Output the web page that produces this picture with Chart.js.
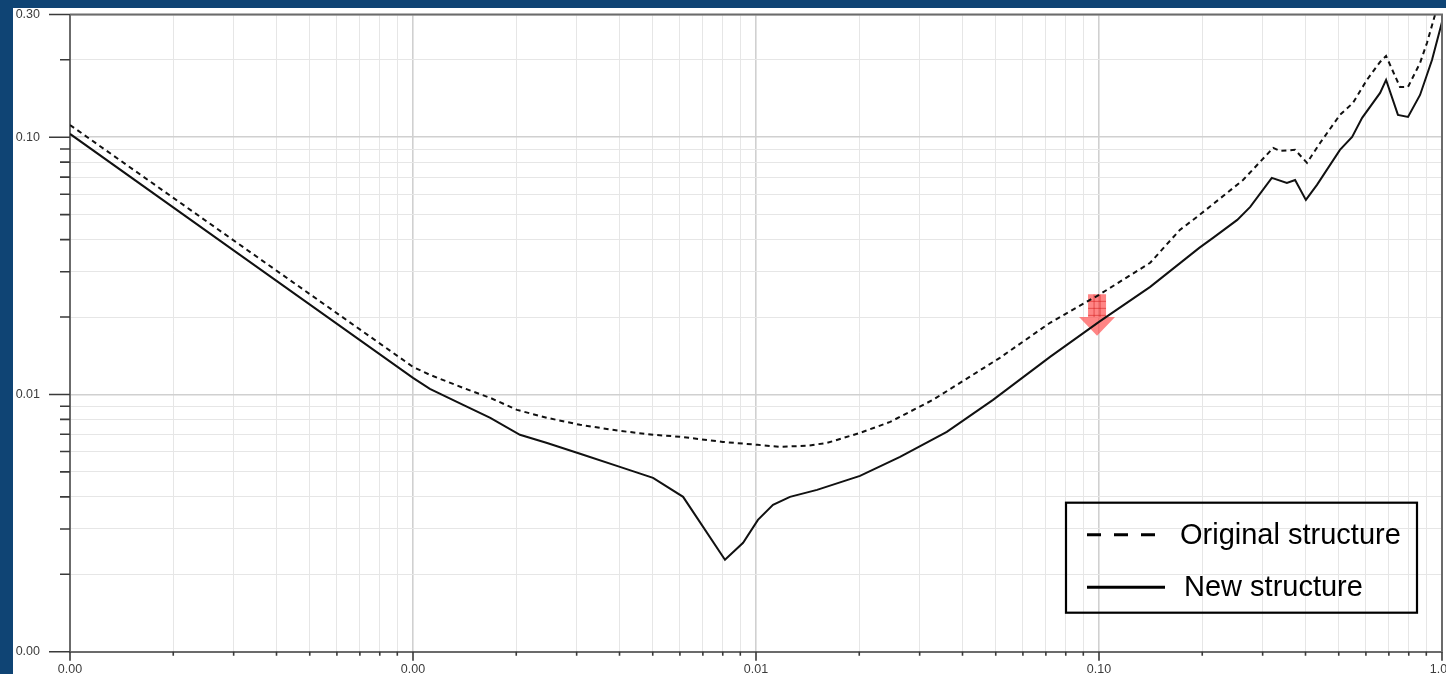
<!DOCTYPE html>
<html>
<head>
<meta charset="utf-8">
<script src="https://cdn.jsdelivr.net/npm/chart.js@4.4.1/dist/chart.umd.min.js"></script>
<style>
  html, body { margin: 0; padding: 0; background: #0f4474; overflow: hidden; width: 1446px; height: 674px; }
  canvas { position: absolute; left: 0; top: 0; }
</style>
</head>
<body>
<canvas id="c" width="1462" height="674"></canvas>
<script>
// Series names
const seriesNames = ['Original structure', 'New structure'];

// Original structure (dashed)
const originalX = [0.0001, 0.00031, 0.001, 0.00112, 0.0014, 0.00168, 0.00201, 0.00246, 0.00307, 0.00401,
  0.00501, 0.0060, 0.0080, 0.0101, 0.01175, 0.0141, 0.0161, 0.0201, 0.0246, 0.0328,
  0.0514, 0.072, 0.1, 0.141, 0.172, 0.193, 0.236, 0.263, 0.322, 0.337,
  0.373, 0.404, 0.441, 0.504, 0.550, 0.604, 0.660, 0.687, 0.754, 0.796,
  0.863, 0.904, 0.954, 1.0];
const originalY = [0.1116, 0.0385, 0.0128, 0.01192, 0.01061, 0.0097, 0.00871, 0.00811, 0.00762, 0.00722,
  0.00697, 0.00685, 0.00654, 0.00637, 0.00626, 0.00632, 0.00648, 0.00709, 0.00782, 0.00953,
  0.01388, 0.0190, 0.0244, 0.0325, 0.0436, 0.049, 0.0607, 0.0682, 0.0909, 0.0885,
  0.0893, 0.0795, 0.0950, 0.1221, 0.1359, 0.1670, 0.1962, 0.2070, 0.1569, 0.1569,
  0.1944, 0.2325, 0.2987, 0.327];

// New structure (solid)
const newX = [0.0001, 0.00031, 0.001, 0.00112, 0.0014, 0.00168, 0.00205, 0.00246, 0.00307, 0.00401,
  0.00501, 0.00613, 0.00812, 0.00917, 0.01013, 0.01121, 0.01256, 0.01506, 0.0201, 0.0263,
  0.0360, 0.0491, 0.072, 0.1, 0.141, 0.196, 0.215, 0.253, 0.276, 0.319,
  0.353, 0.373, 0.401, 0.432, 0.504, 0.547, 0.585, 0.660, 0.687, 0.744,
  0.796, 0.863, 0.935, 1.0];
const newY = [0.1030, 0.0352, 0.0116, 0.01051, 0.00911, 0.00811, 0.00697, 0.00648, 0.00588, 0.00523,
  0.00474, 0.0040, 0.002277, 0.002651, 0.003255, 0.003723, 0.0040, 0.004257, 0.004827, 0.00572,
  0.007154, 0.00953, 0.0140, 0.01915, 0.02619, 0.03714, 0.04061, 0.04771, 0.05358, 0.06948,
  0.06645, 0.06823, 0.05705, 0.06527, 0.08925, 0.1003, 0.1189, 0.1487, 0.1670, 0.1221,
  0.1199, 0.1460, 0.1997, 0.2806];

// Axis ranges and labelled ticks
const xRange = [0.0001, 1];
const yRange = [0.001, 0.3];
const xMajorTicks = [0.0001, 0.001, 0.01, 0.1, 1];
const xMajorLabels = ['0.00', '0.00', '0.01', '0.10', '1.00'];
const yMajorTicks = [0.001, 0.01, 0.1, 0.3];
const yMajorLabels = ['0.00', '0.01', '0.10', '0.30'];

// Downward arrow between the curves (value coordinates)
const arrowX = 0.0987;
const arrowTop = 0.0245;
const arrowNeck = 0.0200;
const arrowTip = 0.0169;

function logTicks(min, max) {
  const out = [];
  for (let e = Math.floor(Math.log10(min)); e <= Math.ceil(Math.log10(max)); e++) {
    for (let m = 1; m <= 9; m++) {
      const v = +(m * Math.pow(10, e)).toPrecision(6);
      if (v >= min * 0.9999 && v <= max * 1.0001) out.push(v);
    }
  }
  return out;
}
function findIndex(list, v) {
  return list.findIndex(t => Math.abs(t - v) / t < 1e-6);
}
function toPoints(xs, ys) { return xs.map((x, i) => ({ x: x, y: ys[i] })); }

const AXIS_GRAY = '#6b6b6b';
const TICK_DARK = '#3a3a3a';

const backdrop = {
  id: 'backdrop',
  beforeDraw(chart) {
    const ctx = chart.ctx;
    ctx.save();
    ctx.fillStyle = '#0f4474';
    ctx.fillRect(0, 0, chart.width, chart.height);
    ctx.fillStyle = '#ffffff';
    ctx.fillRect(13, 8, chart.width - 13, chart.height - 8);
    ctx.restore();
  }
};

const arrow = {
  id: 'arrow',
  beforeDatasetsDraw(chart) {
    const { ctx, scales: { x, y } } = chart;
    const cx = x.getPixelForValue(arrowX);
    const top = y.getPixelForValue(arrowTop);
    const neck = y.getPixelForValue(arrowNeck);
    const tip = y.getPixelForValue(arrowTip);
    const sw = 9, hw = 18;
    ctx.save();
    ctx.beginPath();
    ctx.moveTo(cx - sw, top);
    ctx.lineTo(cx + sw, top);
    ctx.lineTo(cx + sw, neck);
    ctx.lineTo(cx + hw, neck);
    ctx.lineTo(cx, tip);
    ctx.lineTo(cx - hw, neck);
    ctx.lineTo(cx - sw, neck);
    ctx.closePath();
    ctx.fillStyle = 'rgba(255, 70, 70, 0.66)';
    ctx.fill();
    ctx.clip();
    ctx.strokeStyle = 'rgba(210, 30, 30, 0.55)';
    ctx.lineWidth = 1;
    ctx.beginPath();
    for (let gy = top + 7; gy < neck + 4; gy += 7) { ctx.moveTo(cx - sw, gy); ctx.lineTo(cx + sw, gy); }
    ctx.moveTo(cx - 3, top); ctx.lineTo(cx - 3, neck);
    ctx.moveTo(cx + 3, top); ctx.lineTo(cx + 3, neck);
    ctx.stroke();
    ctx.restore();
  }
};

const frame = {
  id: 'frame',
  afterDraw(chart) {
    const { ctx, chartArea: a, scales: { x, y } } = chart;
    ctx.save();
    ctx.strokeStyle = TICK_DARK;
    ctx.lineWidth = 1.6;
    ctx.beginPath();
    y.ticks.forEach(t => {
      const py = y.getPixelForValue(t.value);
      const len = t.major ? 21 : 10;
      ctx.moveTo(a.left - len, py); ctx.lineTo(a.left, py);
    });
    x.ticks.forEach(t => {
      const px = x.getPixelForValue(t.value);
      const len = t.major ? 9 : 4;
      ctx.moveTo(px, a.bottom); ctx.lineTo(px, a.bottom + len);
    });
    ctx.stroke();
    ctx.strokeStyle = AXIS_GRAY;
    ctx.lineWidth = 2;
    ctx.beginPath();
    ctx.moveTo(a.left, a.top); ctx.lineTo(a.right + 1, a.top);
    ctx.moveTo(a.right, a.top); ctx.lineTo(a.right, a.bottom);
    ctx.stroke();
    ctx.restore();
  }
};

const boxLegend = {
  id: 'boxLegend',
  afterDraw(chart) {
    const { ctx, chartArea: a } = chart;
    const right = a.right - 25, bottom = a.bottom - 39;
    const left = right - 351, top = bottom - 110;
    ctx.save();
    ctx.strokeStyle = '#000';
    ctx.lineWidth = 2.2;
    ctx.strokeRect(left, top, right - left, bottom - top);
    const rows = [
      { ds: chart.data.datasets[0], y: top + 32, x0: left + 21, x1: left + 92, tx: left + 114 },
      { ds: chart.data.datasets[1], y: top + 84.5, x0: left + 21, x1: left + 99, tx: left + 118 }
    ];
    ctx.font = '29px "Liberation Sans", Arial, sans-serif';
    ctx.textBaseline = 'middle';
    ctx.fillStyle = '#000';
    rows.forEach(r => {
      ctx.beginPath();
      ctx.lineWidth = 3;
      ctx.strokeStyle = '#000';
      ctx.setLineDash(r.ds.borderDash && r.ds.borderDash.length ? [14, 13] : []);
      ctx.moveTo(r.x0, r.y); ctx.lineTo(r.x1, r.y);
      ctx.stroke();
      ctx.setLineDash([]);
      ctx.fillText(r.ds.label, r.tx, r.y + 1);
    });
    ctx.restore();
  }
};

const gridColor = ctx => (ctx.tick && ctx.tick.major) ? '#d0d0d0' : '#e6e6e6';
const gridWidth = ctx => (ctx.tick && ctx.tick.major) ? 1.6 : 1;
const tickFont = { family: '"Liberation Sans", Arial, sans-serif', size: 12.5 };

new Chart(document.getElementById('c'), {
  type: 'scatter',
  data: {
    datasets: [
      {
        label: seriesNames[0],
        data: toPoints(originalX, originalY),
        showLine: true,
        borderColor: '#111',
        borderWidth: 2,
        borderDash: [5, 4],
        pointRadius: 0,
        tension: 0
      },
      {
        label: seriesNames[1],
        data: toPoints(newX, newY),
        showLine: true,
        borderColor: '#111',
        borderWidth: 2,
        borderDash: [],
        pointRadius: 0,
        tension: 0
      }
    ]
  },
  options: {
    responsive: false,
    animation: false,
    devicePixelRatio: 1,
    layout: { padding: { left: 13, top: 14.5, right: 20, bottom: 0 } },
    plugins: { legend: { display: false }, tooltip: { enabled: false } },
    scales: {
      x: {
        type: 'logarithmic',
        min: xRange[0],
        max: xRange[1],
        afterBuildTicks: s => {
          s.ticks = logTicks(xRange[0], xRange[1]).map(v => ({ value: v, major: findIndex(xMajorTicks, v) >= 0 }));
        },
        afterFit: s => { s.height = 22.3; s.paddingLeft = 0; s.paddingRight = 0; },
        grid: { color: gridColor, lineWidth: gridWidth, drawTicks: false },
        border: { display: true, color: AXIS_GRAY, width: 2 },
        ticks: {
          autoSkip: false,
          maxRotation: 0,
          padding: 10,
          color: '#3c3c3c',
          font: tickFont,
          callback: v => { const i = findIndex(xMajorTicks, v); return i >= 0 ? xMajorLabels[i] : ''; }
        }
      },
      y: {
        type: 'logarithmic',
        min: yRange[0],
        max: yRange[1],
        afterBuildTicks: s => {
          s.ticks = logTicks(yRange[0], yRange[1]).map(v => ({ value: v, major: findIndex(yMajorTicks, v) >= 0 }));
        },
        afterFit: s => { s.width = 57; s.paddingTop = 0; s.paddingBottom = 0; },
        grid: { color: gridColor, lineWidth: gridWidth, drawTicks: false },
        border: { display: true, color: AXIS_GRAY, width: 2 },
        ticks: {
          autoSkip: false,
          padding: 30,
          color: '#3c3c3c',
          font: tickFont,
          callback: v => { const i = findIndex(yMajorTicks, v); return i >= 0 ? yMajorLabels[i] : ''; }
        }
      }
    }
  },
  plugins: [backdrop, arrow, frame, boxLegend]
});
</script>
</body>
</html>
